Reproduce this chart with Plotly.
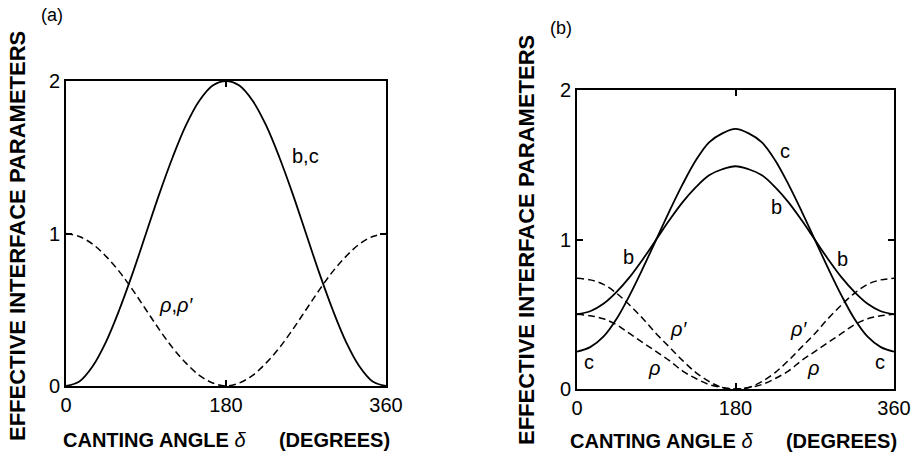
import plotly.graph_objects as go

# Canting angle (degrees)
delta = [0, 15, 30, 45, 60, 75, 90, 105, 120, 135, 150, 165, 180,
         195, 210, 225, 240, 255, 270, 285, 300, 315, 330, 345, 360]

# Panel (a)
a_bc = [0.00, 0.03, 0.13, 0.29, 0.50, 0.74, 1.00, 1.26, 1.50, 1.71, 1.87, 1.97, 2.00,
        1.97, 1.87, 1.71, 1.50, 1.26, 1.00, 0.74, 0.50, 0.29, 0.13, 0.03, 0.00]
a_rho = [1.00, 0.98, 0.93, 0.85, 0.75, 0.63, 0.50, 0.37, 0.25, 0.15, 0.07, 0.02, 0.00,
         0.02, 0.07, 0.15, 0.25, 0.37, 0.50, 0.63, 0.75, 0.85, 0.93, 0.98, 1.00]

# Panel (b)
b_c = [0.25, 0.28, 0.35, 0.47, 0.63, 0.81, 1.00, 1.19, 1.37, 1.53, 1.65, 1.71, 1.74,
       1.71, 1.65, 1.53, 1.37, 1.19, 1.00, 0.81, 0.63, 0.47, 0.35, 0.28, 0.25]
b_b = [0.50, 0.52, 0.57, 0.65, 0.75, 0.87, 1.00, 1.13, 1.25, 1.35, 1.43, 1.47, 1.49,
       1.47, 1.43, 1.35, 1.25, 1.13, 1.00, 0.87, 0.75, 0.65, 0.57, 0.52, 0.50]
b_rhop = [0.74, 0.73, 0.70, 0.64, 0.56, 0.47, 0.37, 0.28, 0.19, 0.11, 0.05, 0.01, 0.00,
          0.01, 0.05, 0.11, 0.19, 0.28, 0.37, 0.47, 0.56, 0.64, 0.70, 0.73, 0.74]
b_rho = [0.50, 0.49, 0.47, 0.43, 0.37, 0.31, 0.25, 0.19, 0.12, 0.07, 0.03, 0.01, 0.00,
         0.01, 0.03, 0.07, 0.12, 0.19, 0.25, 0.31, 0.37, 0.43, 0.47, 0.49, 0.50]

x_ticks = [0, 180, 360]
y_ticks = [0, 1, 2]
y_title = "<b>EFFECTIVE INTERFACE PARAMETERS</b>"
x_title = "<b>CANTING ANGLE</b> <i>δ</i>&nbsp;&nbsp;&nbsp;&nbsp;&nbsp;&nbsp;<b>(DEGREES)</b>"

W, H = 916, 458
FONT = "Liberation Sans, Arial, Helvetica, sans-serif"

fig = go.Figure()
solid = dict(color="black", width=1.8, shape="spline")
dashed = dict(color="black", width=1.5, dash="7px,4px", shape="spline")

fig.add_trace(go.Scatter(x=delta, y=a_bc, mode="lines", line=solid, xaxis="x", yaxis="y"))
fig.add_trace(go.Scatter(x=delta, y=a_rho, mode="lines", line=dashed, xaxis="x", yaxis="y"))
fig.add_trace(go.Scatter(x=delta, y=b_c, mode="lines", line=solid, xaxis="x2", yaxis="y2"))
fig.add_trace(go.Scatter(x=delta, y=b_b, mode="lines", line=solid, xaxis="x2", yaxis="y2"))
fig.add_trace(go.Scatter(x=delta, y=b_rhop, mode="lines", line=dashed, xaxis="x2", yaxis="y2"))
fig.add_trace(go.Scatter(x=delta, y=b_rho, mode="lines", line=dashed, xaxis="x2", yaxis="y2"))

axcommon = dict(showline=True, mirror="ticks", linecolor="black", linewidth=1.8,
                ticks="inside", ticklen=6, tickwidth=1.5, tickcolor="black",
                showgrid=False, zeroline=False, automargin=False,
                tickfont=dict(family=FONT, size=20, color="black"))

fig.update_layout(
    width=W, height=H, autosize=False,
    margin=dict(l=0, r=0, t=0, b=0, pad=0),
    paper_bgcolor="white", plot_bgcolor="white",
    showlegend=False,
    xaxis=dict(domain=[66 / W, 386 / W], range=[0, 360], tickvals=x_ticks, anchor="y", **axcommon),
    yaxis=dict(domain=[(H - 386) / H, (H - 81) / H], range=[0, 2], tickvals=y_ticks, anchor="x", **axcommon),
    xaxis2=dict(domain=[577 / W, 894 / W], range=[0, 360], tickvals=x_ticks, anchor="y2", **axcommon),
    yaxis2=dict(domain=[(H - 389) / H, (H - 90) / H], range=[0, 2], tickvals=y_ticks, anchor="x2", **axcommon),
)

ann = []
lab = dict(family=FONT, size=20, color="black")
def t(x, y, s, xr, yr, font=lab, angle=0):
    ann.append(dict(x=x, y=y, xref=xr, yref=yr, text=s, showarrow=False, font=font,
                    xanchor="center", yanchor="middle", textangle=angle))

# curve labels panel (a)
t(269, 1.51, "b,c", "x", "y")
t(124, 0.53, "<i>ρ</i>,<i>ρ′</i>", "x", "y")
# curve labels panel (b)
t(236, 1.59, "c", "x2", "y2")
t(226, 1.22, "b", "x2", "y2")
t(58, 0.88, "b", "x2", "y2")
t(302, 0.87, "b", "x2", "y2")
t(14, 0.18, "c", "x2", "y2")
t(344, 0.18, "c", "x2", "y2")
t(115, 0.40, "<i>ρ′</i>", "x2", "y2")
t(88, 0.14, "<i>ρ</i>", "x2", "y2")
t(251, 0.40, "<i>ρ′</i>", "x2", "y2")
t(268, 0.14, "<i>ρ</i>", "x2", "y2")

# panel letters
t(52 / W, 1 - 15 / H, "(a)", "paper", "paper", dict(family=FONT, size=18, color="black"))
t(561 / W, 1 - 28 / H, "(b)", "paper", "paper", dict(family=FONT, size=18, color="black"))

# axis titles
tfont = dict(family=FONT, size=20, color="black")
yfont = dict(family=FONT, size=22, color="black")
t(226 / W, 1 - 440 / H, x_title, "paper", "paper", tfont)
t(733 / W, 1 - 441 / H, x_title, "paper", "paper", tfont)
t(17 / W, 1 - 236 / H, y_title, "paper", "paper", yfont, -90)
t(526 / W, 1 - 240 / H, y_title, "paper", "paper", yfont, -90)

fig.update_layout(annotations=ann)
fig.write_html("out.html", config={"displayModeBar": False},
               post_script="document.body.style.margin='0';document.body.style.overflow='hidden';")
